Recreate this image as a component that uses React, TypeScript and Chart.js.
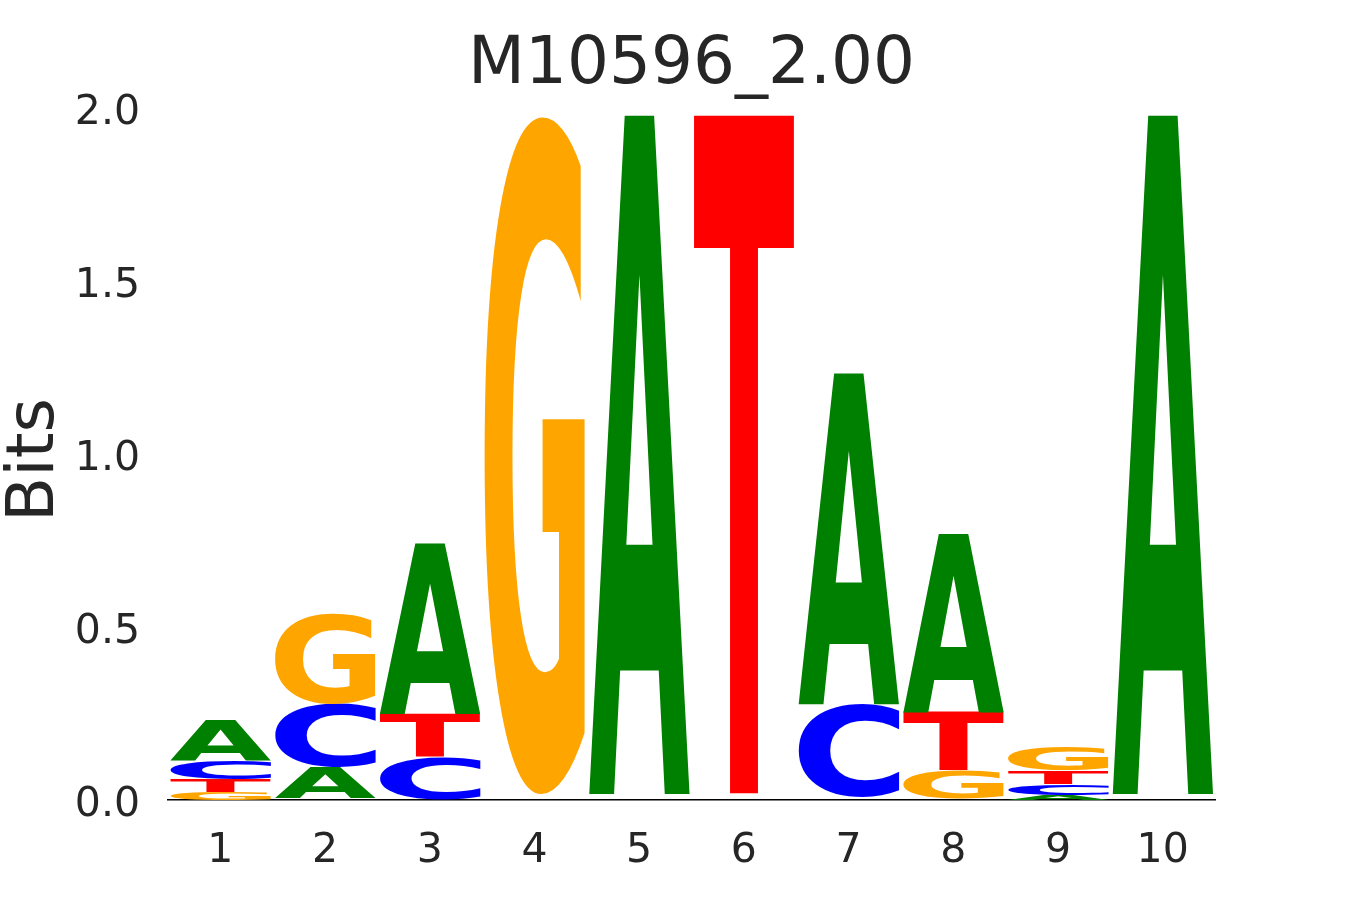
import React, { useEffect, useRef } from "react";
import { Chart, registerables } from "chart.js";

Chart.register(...registerables);

// ---- data ----
const positions = ["1", "2", "3", "4", "5", "6", "7", "8", "9", "10"];
const bitsA = [0.116, 0.09, 0.494, 0.005, 1.963, 0.002, 0.957, 0.514, 0.015, 1.963];
const bitsC = [0.055, 0.182, 0.121, 0.005, 0.006, 0.002, 0.269, 0.004, 0.032, 0.006];
const bitsG = [0.023, 0.263, 0.002, 1.965, 0.006, 0.002, 0.004, 0.081, 0.07, 0.006];
const bitsT = [0.038, 0.005, 0.125, 0.005, 0.005, 1.974, 0.004, 0.17, 0.038, 0.005];
const letters = ["A", "C", "G", "T"];
const letterColors: Record<string, string> = {
  A: "#008000",
  C: "#0000ff",
  G: "#ffa500",
  T: "#ff0000",
};
const yTickValues = [0, 0.5, 1.0, 1.5, 2.0];
const titleText = "M10596_2.00";
const yLabel = "Bits";

const TEXT = "#262626";
const FONT = '"DejaVu Sans", "Noto Sans", sans-serif';

function buildLayers() {
  const byLetter: Record<string, number[]> = { A: bitsA, C: bitsC, G: bitsG, T: bitsT };
  const layers = letters.map(() => ({ data: [] as number[], glyphs: [] as string[] }));
  positions.forEach((_, i) => {
    const sorted = letters
      .map((l) => ({ l, v: byLetter[l][i] }))
      .sort((a, b) => a.v - b.v);
    sorted.forEach((e, r) => {
      layers[r].data.push(e.v);
      layers[r].glyphs.push(e.l);
    });
  });
  return layers;
}

const glyphPlugin = {
  id: "logoGlyphs",
  afterDatasetsDraw(chart: any) {
    const ctx: CanvasRenderingContext2D = chart.ctx;
    chart.data.datasets.forEach((ds: any, di: number) => {
      const meta = chart.getDatasetMeta(di);
      meta.data.forEach((bar: any, i: number) => {
        const { x, y, base, width } = bar.getProps(["x", "y", "base", "width"], true);
        const letter = ds.glyphs[i];
        const top = Math.min(y, base);
        const h = Math.abs(base - y);
        if (h < 2.5) return; // glyphs this thin vanish in the reference rendering
        ctx.save();
        ctx.font = `bold 200px ${FONT}`;
        ctx.textBaseline = "alphabetic";
        ctx.textAlign = "left";
        const m = ctx.measureText(letter);
        const gl = -m.actualBoundingBoxLeft;
        const gr = m.actualBoundingBoxRight;
        const gt = -m.actualBoundingBoxAscent;
        const gb = m.actualBoundingBoxDescent;
        const left = x - width / 2;
        ctx.translate(left, top);
        ctx.scale(width / (gr - gl), h / (gb - gt));
        ctx.translate(-gl, -gt);
        ctx.fillStyle = letterColors[letter];
        ctx.fillText(letter, 0, 0);
        ctx.restore();
      });
    });
  },
};

const labelsPlugin = {
  id: "logoLabels",
  afterDraw(chart: any) {
    const ctx: CanvasRenderingContext2D = chart.ctx;
    const ca = chart.chartArea;
    ctx.save();
    ctx.fillStyle = TEXT;
    ctx.font = `66px ${FONT}`;
    ctx.textAlign = "center";
    ctx.textBaseline = "alphabetic";
    ctx.fillText(titleText, (ca.left + ca.right) / 2, 83);
    ctx.translate(53, (ca.top + ca.bottom) / 2 + 6);
    ctx.rotate(-Math.PI / 2);
    ctx.fillText(yLabel, 0, 0);
    ctx.restore();
  },
};

export default function App() {
  const canvasRef = useRef<HTMLCanvasElement | null>(null);

  useEffect(() => {
    const canvas = canvasRef.current;
    if (!canvas) return;
    const layers = buildLayers();
    const chart = new Chart(canvas, {
      type: "bar",
      data: {
        labels: positions,
        datasets: layers.map((layer, r) => ({
          label: `rank${r}`,
          data: layer.data,
          glyphs: layer.glyphs,
          backgroundColor: "rgba(0,0,0,0)",
          borderWidth: 0,
          categoryPercentage: 1.0,
          barPercentage: 0.965,
        })) as any,
      },
      options: {
        responsive: false,
        animation: false,
        devicePixelRatio: 1,
        layout: { padding: { left: 0, right: 135, top: 108, bottom: 0 } },
        plugins: {
          legend: { display: false },
          tooltip: { enabled: false },
          title: { display: false },
        },
        scales: {
          x: {
            stacked: true,
            grid: { display: false, drawTicks: false },
            border: { display: true, color: "#000000", width: 1.5 },
            ticks: {
              color: TEXT,
              font: { family: FONT, size: 41 },
              padding: 27,
            },
            afterFit: (s: any) => {
              s.height = 100;
            },
          },
          y: {
            stacked: true,
            min: 0,
            max: 2,
            grid: { display: false, drawTicks: false },
            border: { display: false },
            afterBuildTicks: (s: any) => {
              s.ticks = yTickValues.map((v) => ({ value: v }));
            },
            ticks: {
              color: TEXT,
              font: { family: FONT, size: 41 },
              padding: 28,
              labelOffset: 5,
              callback: (v: any) => Number(v).toFixed(1),
            },
            afterFit: (s: any) => {
              s.width = 168;
            },
          },
        },
      },
      plugins: [glyphPlugin, labelsPlugin],
    });
    return () => chart.destroy();
  }, []);

  return (
    <div style={{ position: "absolute", left: 0, top: 0, width: 1350, height: 900, background: "#fff" }}>
      <canvas ref={canvasRef} width={1350} height={900} style={{ display: "block" }} />
    </div>
  );
}
